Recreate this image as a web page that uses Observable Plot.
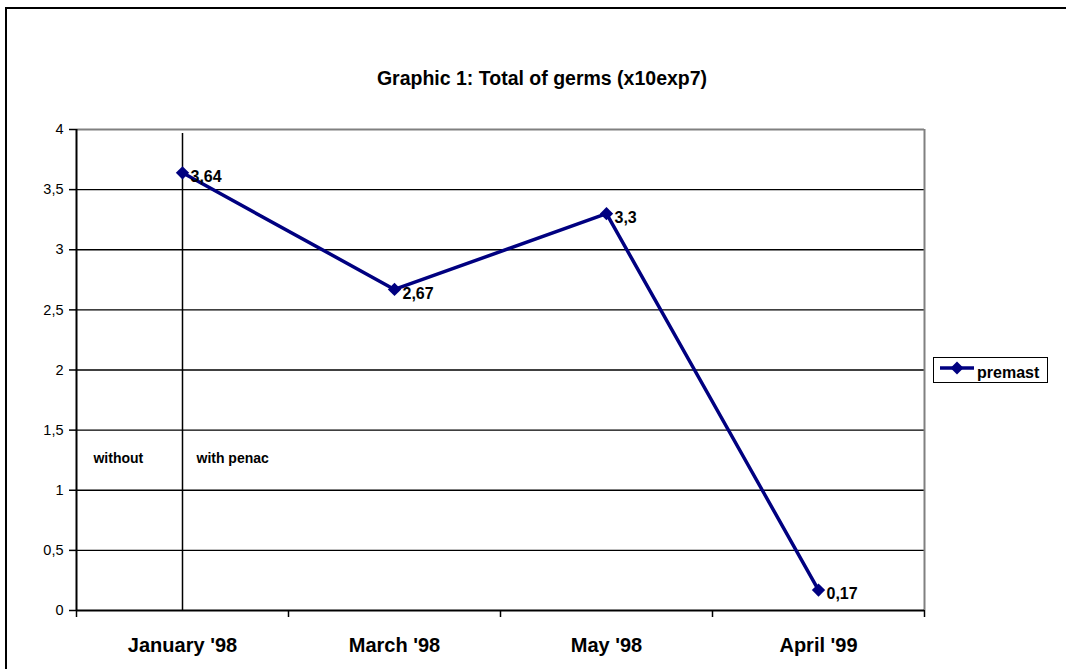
<!DOCTYPE html>
<html>
<head>
<meta charset="utf-8">
<script src="https://cdn.jsdelivr.net/npm/d3@7"></script>
<script src="https://cdn.jsdelivr.net/npm/@observablehq/plot@0.6"></script>
<style>
  html, body { margin: 0; padding: 0; background: #fff; }
  body { font-family: "Liberation Sans", Arial, sans-serif; }
  #wrap { position: relative; width: 1066px; height: 669px; overflow: hidden; }
  #frame { position: absolute; left: 5px; top: 7px; width: 1100px; height: 700px; border-left: 2px solid #000; border-top: 2px solid #000; box-sizing: border-box; }
  #title { position: absolute; left: 0; width: 1084px; top: 67px; text-align: center; font-weight: bold; font-size: 19.5px; line-height: 22px; color: #000; }
  #legend { position: absolute; left: 933px; top: 357px; width: 115px; height: 26px; border: 1.5px solid #000; box-sizing: border-box; background: #fff; }
  #legend svg { position: absolute; left: 5px; top: 2px; }
  #legend span { position: absolute; left: 43px; top: 6px; font-weight: bold; font-size: 16px; line-height: 18px; }
  #chart { position: absolute; left: 0; top: 0; }
</style>
</head>
<body>
<div id="wrap">
  <div id="frame"></div>
  <div id="chart"></div>
  <div id="title">Graphic 1: Total of germs (x10exp7)</div>
  <div id="legend"></div>
</div>
<script>
const categories = ["January '98", "March '98", "May '98", "April '99"];
const values = [3.64, 2.67, 3.3, 0.17];
const seriesName = "premast";
const yTicks = [0, 0.5, 1, 1.5, 2, 2.5, 3, 3.5, 4];
const annotations = [
  {label: "without", x: -0.42, y: 1.26},
  {label: "with penac", x: 0.066, y: 1.26}
];

const data = categories.map((c, i) => ({i, c, v: values[i]}));
const idx = categories.map((c, i) => i);
const bounds = [-0.5, ...idx.map(i => i + 0.5)];
const comma = v => String(v).replace(".", ",");
const navy = "#000080";
const font = "'Liberation Sans', Arial, sans-serif";

const chart = Plot.plot({
  width: 1066,
  height: 669,
  marginLeft: 76,
  marginRight: 142,
  marginTop: 129,
  marginBottom: 59,
  style: {fontFamily: font, background: "transparent", color: "#000"},
  x: {type: "linear", domain: [-0.5, 3.5]},
  y: {domain: [0, 4]},
  marks: [
    Plot.ruleY(yTicks.filter(t => t > 0 && t < 4), {stroke: "#000", strokeWidth: 1.3}),
    Plot.ruleY([4], {stroke: "#808080", strokeWidth: 2}),
    Plot.ruleX([3.5], {stroke: "#808080", strokeWidth: 2}),
    Plot.ruleX([0], {y1: 0, y2: 4, stroke: "#000", strokeWidth: 1.5, insetBottom: -4}),
    Plot.ruleX([-0.5], {stroke: "#000", strokeWidth: 2}),
    Plot.ruleY([0], {stroke: "#000", strokeWidth: 2}),
    Plot.axisY({ticks: yTicks, tickSize: 7, tickPadding: 6, tickFormat: comma, fontSize: 14.5, label: null, stroke: "#000", strokeWidth: 1.5}),
    Plot.axisX({ticks: bounds, tickSize: 7, tickFormat: () => "", label: null, stroke: "#000", strokeWidth: 1.5}),
    Plot.axisX({ticks: idx, tickSize: 0, tickPadding: 27, tickFormat: i => categories[i], fontSize: 20, fontWeight: "bold", label: null}),
    Plot.text(annotations, {x: "x", y: "y", text: "label", textAnchor: "start", fontSize: 14, fontWeight: "bold", fill: "#000"}),
    Plot.lineY(data, {x: "i", y: "v", stroke: navy, strokeWidth: 3.5}),
    Plot.dot(data, {x: "i", y: "v", symbol: "diamond2", r: 6, fill: navy, stroke: "none"}),
    Plot.text(data, {x: "i", y: "v", text: d => comma(d.v), textAnchor: "start", dx: 8, dy: 4, fontSize: 16, fontWeight: "bold", fill: "#000"})
  ]
});
document.getElementById("chart").appendChild(chart);

const leg = document.getElementById("legend");
leg.innerHTML = `<svg width="38" height="16"><line x1="1" y1="8" x2="35" y2="8" stroke="${navy}" stroke-width="3.5"/><path d="M18,1.5 L24.5,8 L18,14.5 L11.5,8 Z" fill="${navy}"/></svg><span>${seriesName}</span>`;
</script>
</body>
</html>
